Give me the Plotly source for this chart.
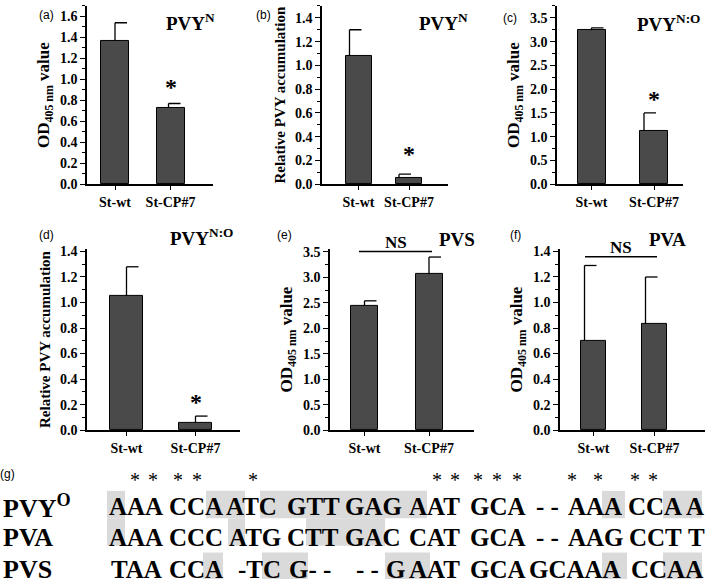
import plotly.graph_objects as go

W, H = 709, 588
SERIF = "Liberation Serif"
SANS = "Liberation Sans"
BAR = "#4a4a4a"

# ---------------- data ----------------
categories = ["St-wt", "St-CP#7"]

mean_a = [1.37, 0.73]
err_a = [0.17, 0.04]
mean_b = [1.08, 0.05]
err_b = [0.22, 0.035]
mean_c = [3.24, 1.12]
err_c = [0.05, 0.38]
mean_d = [1.05, 0.06]
err_d = [0.23, 0.05]
mean_e = [2.44, 3.06]
err_e = [0.10, 0.34]
mean_f = [0.70, 0.83]
err_f = [0.59, 0.37]

panel_labels = ["(a)", "(b)", "(c)", "(d)", "(e)", "(f)"]
panel_titles = ["PVY<sup>N</sup>", "PVY<sup>N</sup>", "PVY<sup>N:O</sup>",
                "PVY<sup>N:O</sup>", "PVS", "PVA"]
od_title = "OD<sub>405 nm</sub> value"
rel_title = "Relative PVY accumulation"
y_titles = [od_title, rel_title, od_title, rel_title, od_title, od_title]
y_max = [1.7, 1.5, 3.75, 1.42, 3.56, 1.42]
y_step = [0.2, 0.2, 0.5, 0.2, 0.5, 0.2]
significance = ["*", "*", "*", "*", "NS", "NS"]

# alignment panel (g)
seq_names = ["PVY<sup>O</sup>", "PVA", "PVS"]
seq_pvyo = ["AAA", "CCA", "ATC", "GTT", "GAG", "AAT", "GCA", "- -", "AAA", "CCA", "A"]
seq_pva = ["AAA", "CCC", "ATG", "CTT", "GAC", "CAT", "GCA", "- -", "AAG", "CCT", "T"]
seq_pvs = ["TAA", "CCA", "-TC", "G- -", "- -", "G", "AAT", "GCA", "GCAAA", "CCAA"]

# ---------------- layout (pixels) ----------------
boxes = [(87, 213, 2, 184), (322, 448, 2, 184), (557, 683, 2, 184),
         (87, 240, 250, 435), (330, 474, 250, 435), (560, 705, 250, 435)]
centers = [(115, 170.5), (358.5, 409), (591.5, 654),
           (126.5, 195.5), (364.5, 429), (593.5, 654.5)]
bar_px = [28, 26, 28, 33, 27, 25]
err_off_px = [(0, -2), (-9, -10), (0, -10), (0, 0), (0, 0), (-9, -9)]
cap_px = 12
label_pos = [(46, 11), (263, 11), (510, 14), (47, 236), (284, 236), (515, 236)]
title_pos = [(190, 18), (443, 18), (668, 19), (201, 238), (457, 240), (667, 240)]
ns_lines = {4: (359, 432, 252.7, 243), 5: (585, 657, 258, 249)}
star_shift = [16, 20, 14, 14]

seq_rows_y = [513, 545, 577]
seq_pvyo_x = [108, 168, 225, 286, 344, 408, 469, 535, 567, 627, 685]
seq_pva_x = [108, 168, 228, 286, 344, 408, 469, 535, 567, 628, 687]
seq_pvs_x = [110, 168, 237, 288, 355, 385, 408, 469, 528, 630]
star_x = [135, 153, 178, 197, 253, 437, 455, 478, 497, 517, 572, 598, 635, 653]
star_y = 486
hl_rows = [(497, 525), (525, 553), (560, 587)]
hl_pvyo = [(107, 125), (206, 245), (260, 427), (602, 625), (663, 702)]
hl_pva = [(107, 125), (228, 245), (306, 385)]
hl_pvs = [(203, 223), (262, 308), (385, 430), (602, 627), (663, 702)]


def pxx(p):
    return p / W


def pxy(p):
    return 1 - p / H


means = [mean_a, mean_b, mean_c, mean_d, mean_e, mean_f]
errs = [err_a, err_b, err_c, err_d, err_e, err_f]

fig = go.Figure()
annotations = []
shapes = []

for i in range(6):
    n = i + 1
    xa = "x" if n == 1 else f"x{n}"
    ya = "y" if n == 1 else f"y{n}"
    left, right, top, bottom = boxes[i]
    c1, c2 = centers[i]
    u = c2 - c1
    xr = [-(c1 - left) / u, (right - c1) / u]
    fig.add_trace(go.Bar(
        x=[0, 1], y=means[i], width=bar_px[i] / u,
        marker=dict(color=BAR, line=dict(color="black", width=1)),
        xaxis=xa, yaxis=ya, showlegend=False, hoverinfo="skip"))
    ex, ey = [], []
    for k in range(2):
        xl = k + err_off_px[i][k] / u
        t = means[i][k] + errs[i][k]
        ex += [xl, xl, None, xl, xl + cap_px / u, None]
        ey += [means[i][k], t, None, t, t, None]
    fig.add_trace(go.Scatter(x=ex, y=ey, mode="lines",
                             line=dict(color="black", width=1.3),
                             xaxis=xa, yaxis=ya, showlegend=False,
                             hoverinfo="skip"))
    axis_common = dict(showline=True, linecolor="black", linewidth=1.5,
                       showgrid=False, zeroline=False, ticks="outside",
                       tickcolor="black", fixedrange=True)
    fig.layout[("xaxis" if n == 1 else f"xaxis{n}")] = dict(
        domain=[pxx(left), pxx(right)], range=xr, anchor=ya,
        tickvals=[0, 1], ticktext=categories, ticklen=4, tickwidth=1.2,
        tickfont=dict(family=SERIF, size=14, color="black", weight="bold"),
        **axis_common)
    fig.layout[("yaxis" if n == 1 else f"yaxis{n}")] = dict(
        domain=[pxy(bottom), pxy(top)], range=[0, y_max[i]], anchor=xa,
        dtick=y_step[i], tick0=0, tickformat=".1f", ticklen=5, tickwidth=1.2,
        minor=dict(ticks="outside", ticklen=3, dtick=y_step[i] / 2,
                   tickcolor="black", tickwidth=1),
        tickfont=dict(family=SERIF, size=14, color="black", weight="bold"),
        title=dict(text=y_titles[i], standoff=6,
                   font=dict(family=SERIF, size=17 if y_titles[i] == od_title else 15,
                             color="black", weight="bold")),
        **axis_common)
    lx, ly = label_pos[i]
    annotations.append(dict(text=panel_labels[i], x=pxx(lx), y=pxy(ly),
                            xref="paper", yref="paper", showarrow=False,
                            xanchor="center", yanchor="middle",
                            font=dict(family=SANS, size=12, color="black")))
    tx, ty = title_pos[i]
    annotations.append(dict(text=panel_titles[i], x=pxx(tx), y=pxy(ty),
                            xref="paper", yref="paper", showarrow=False,
                            xanchor="center", yanchor="middle",
                            font=dict(family=SERIF, size=19, color="black",
                                      weight="bold")))
    if significance[i] == "*":
        annotations.append(dict(text="*", x=1, y=means[i][1] + errs[i][1],
                                xref=xa, yref=ya, showarrow=False,
                                xanchor="center", yanchor="middle",
                                yshift=star_shift[i],
                                font=dict(family=SERIF, size=24, color="black",
                                          weight="bold")))
    else:
        x0, x1, yl, yt = ns_lines[i]
        shapes.append(dict(type="line", xref="paper", yref="paper",
                           x0=pxx(x0), x1=pxx(x1), y0=pxy(yl), y1=pxy(yl),
                           line=dict(color="black", width=1.6)))
        annotations.append(dict(text="NS", x=pxx((x0 + x1) / 2), y=pxy(yt),
                                xref="paper", yref="paper", showarrow=False,
                                xanchor="center", yanchor="middle",
                                font=dict(family=SERIF, size=17, color="black",
                                          weight="bold")))

# ---------------- panel (g) ----------------
annotations.append(dict(text="(g)", x=pxx(7), y=pxy(480), xref="paper",
                        yref="paper", showarrow=False, xanchor="center",
                        yanchor="middle", font=dict(family=SANS, size=12,
                                                    color="black")))
for (r0, r1), hls in zip(hl_rows, [hl_pvyo, hl_pva, hl_pvs]):
    for (a, b) in hls:
        shapes.append(dict(type="rect", xref="paper", yref="paper",
                           x0=pxx(a), x1=pxx(b), y0=pxy(r1), y1=pxy(r0),
                           fillcolor="#dadada", line=dict(width=0),
                           layer="below"))

seq_font = dict(family=SERIF, size=25, color="black", weight="bold")
name_font = dict(family=SERIF, size=26, color="black", weight="bold")
for name, toks, xs, yy in zip(seq_names, [seq_pvyo, seq_pva, seq_pvs],
                              [seq_pvyo_x, seq_pva_x, seq_pvs_x], seq_rows_y):
    annotations.append(dict(text=name, x=pxx(1), y=pxy(yy), xref="paper",
                            yref="paper", showarrow=False, xanchor="left",
                            yanchor="middle", font=name_font))
    for t, xx in zip(toks, xs):
        annotations.append(dict(text=t, x=pxx(xx), y=pxy(yy), xref="paper",
                                yref="paper", showarrow=False, xanchor="left",
                                yanchor="middle", borderpad=0, font=seq_font))
for sx in star_x:
    annotations.append(dict(text="*", x=pxx(sx), y=pxy(star_y), xref="paper",
                            yref="paper", showarrow=False, xanchor="center",
                            yanchor="middle",
                            font=dict(family=SERIF, size=20, color="black")))

fig.update_layout(width=W, height=H, margin=dict(l=0, r=0, t=0, b=0),
                  paper_bgcolor="white", plot_bgcolor="rgba(0,0,0,0)",
                  annotations=annotations, shapes=shapes, bargap=0,
                  showlegend=False)

fig.write_html("out.html", config={"displayModeBar": False},
               post_script="document.body.style.margin='0px';"
                           "document.body.style.padding='0px';")
